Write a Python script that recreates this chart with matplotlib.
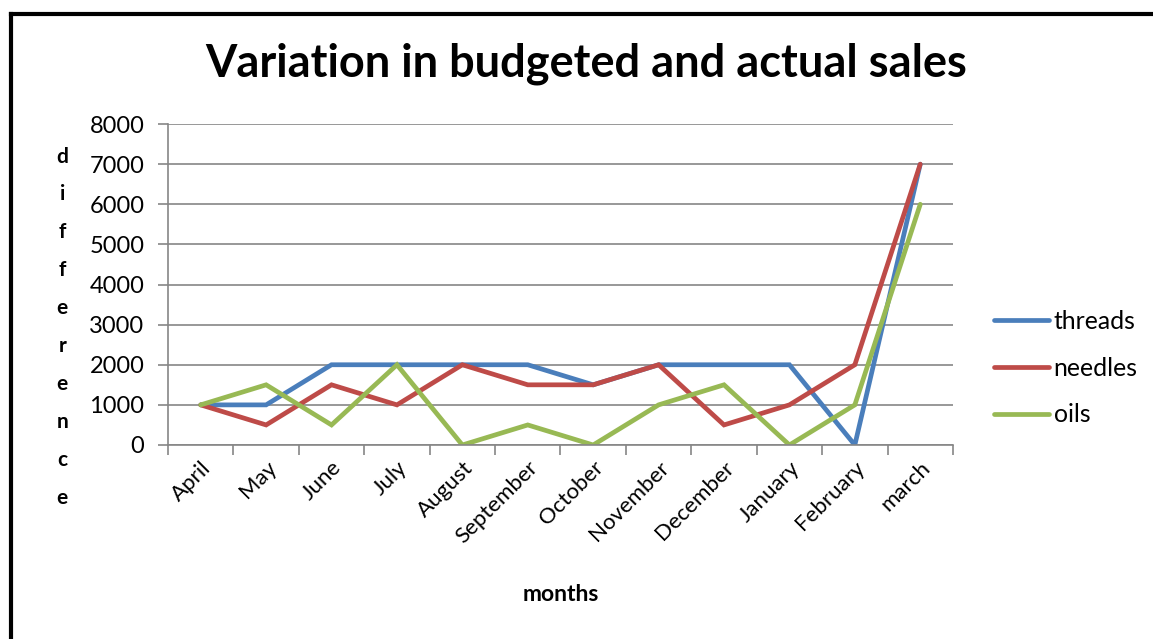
import matplotlib.pyplot as plt
from matplotlib.lines import Line2D

months = ["April", "May", "June", "July", "August", "September", "October",
          "November", "December", "January", "February", "march"]
threads = [1000, 1000, 2000, 2000, 2000, 2000, 1500, 2000, 2000, 2000, 0, 7000]
needles = [1000, 500, 1500, 1000, 2000, 1500, 1500, 2000, 500, 1000, 2000, 7000]
oils = [1000, 1500, 500, 2000, 0, 500, 0, 1000, 1500, 0, 1000, 6000]

series_names = ["threads", "needles", "oils"]
colors = ["#4A7EBB", "#BE4B48", "#98B954"]

plt.rcParams['font.family'] = ['Lato', 'DejaVu Sans']

fig = plt.figure(figsize=(11.53, 6.39), dpi=100)
ax = fig.add_axes([0.1457, 0.3036, 0.6808, 0.5023])

x = list(range(len(months)))
for vals, name, c in zip([threads, needles, oils], series_names, colors):
    ax.plot(x, vals, color=c, lw=3.4, label=name, solid_capstyle='round',
            solid_joinstyle='miter')

ax.set_xlim(-0.5, len(months) - 0.5)
ax.set_ylim(0, 8000)
ax.set_yticks(range(0, 8001, 1000))
ax.set_xticks(x)
ax.set_xticklabels(months, rotation=45, ha='right', rotation_mode='anchor',
                   fontsize=16)
ax.set_xticks([i - 0.5 for i in range(len(months) + 1)], minor=True)
ax.tick_params(axis='x', which='major', length=0, pad=9)
ax.tick_params(axis='x', which='minor', length=7, width=1.2, color='#868686')
ax.tick_params(axis='y', length=7, width=1.2, color='#868686', labelsize=17,
               pad=10)
ax.grid(axis='y', color='#868686', lw=1.2)
ax.set_axisbelow(True)
for s in ['top', 'right']:
    ax.spines[s].set_visible(False)
for s in ['left', 'bottom']:
    ax.spines[s].set_color('#868686')
    ax.spines[s].set_linewidth(1.2)

fig.text(0.508, 0.9, "Variation in budgeted and actual sales", ha='center',
         va='center', fontsize=32.5, fontweight='bold')
fig.text(0.054, 0.488, "\n".join("difference"), ha='center', va='center',
         fontsize=15, fontweight='bold', linespacing=2.12)
fig.text(0.486, 0.069, "months", ha='center', va='center', fontsize=16.5,
         fontweight='bold')

handles = [Line2D([], [], color=c, lw=3.4, solid_capstyle='round') for c in colors]
fig.legend(handles, series_names, loc='center left',
           bbox_to_anchor=(0.843, 0.424), frameon=False, fontsize=17.8,
           handlelength=2.2, handletextpad=0.2, labelspacing=0.96)

# outer frame: only left and top edges are visible in the crop
bx = 11 / 1153
by = 1 - 13.5 / 639
fig.add_artist(Line2D([bx, bx], [-0.05, by], transform=fig.transFigure,
                      color='black', lw=3, solid_capstyle='projecting'))
fig.add_artist(Line2D([bx, 1.05], [by, by], transform=fig.transFigure,
                      color='black', lw=3, solid_capstyle='projecting'))

fig.savefig("out.png", dpi=100)
